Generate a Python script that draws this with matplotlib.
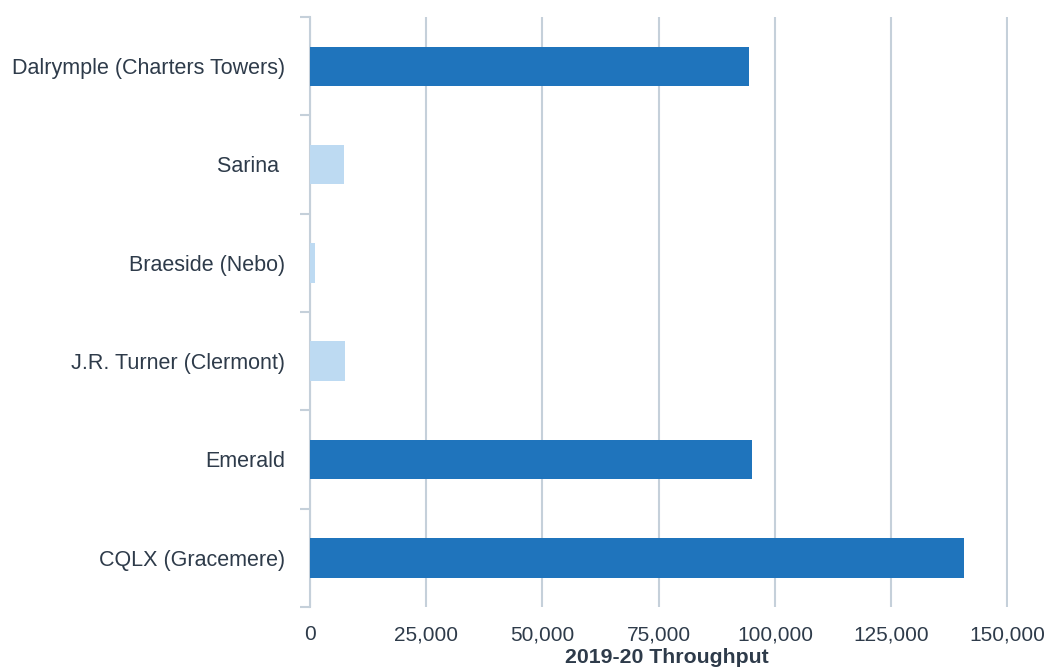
import matplotlib.pyplot as plt
from matplotlib.ticker import FuncFormatter
import numpy as np

plt.rcParams['font.family'] = ['Liberation Sans', 'DejaVu Sans']

categories = ['CQLX (Gracemere)', 'Emerald', 'J.R. Turner (Clermont)',
              'Braeside (Nebo)', 'Sarina ', 'Dalrymple (Charters Towers)']
throughput = [140700, 95050, 7530, 1010, 7250, 94470]
highlight = [True, True, False, False, False, True]

dark = '#1F74BC'
light = '#BDDAF2'
grid_col = '#C5D0DA'
text_col = '#2E3B4A'

fig = plt.figure(figsize=(10.49, 6.71), dpi=100)
ax = fig.add_axes([310 / 1049, 1 - 607 / 671, 697.5 / 1049, 590 / 671])

y = np.arange(len(categories))
colors = [dark if h else light for h in highlight]
ax.barh(y, throughput, height=0.4, color=colors, zorder=3)

ax.set_xlim(0, 150000)
ax.set_ylim(-0.5, len(categories) - 0.5)
ax.set_xticks(np.arange(0, 150001, 25000))
ax.xaxis.set_major_formatter(FuncFormatter(lambda v, p: f'{int(v):,}'))
ax.set_yticks(y)
ax.set_yticklabels(categories)
ax.set_yticks(np.arange(-0.5, len(categories)), minor=True)

ax.grid(axis='x', color=grid_col, linewidth=1.5, zorder=0)
for s in ['top', 'right', 'bottom']:
    ax.spines[s].set_visible(False)
ax.spines['left'].set_color(grid_col)
ax.spines['left'].set_linewidth(1.5)

ax.tick_params(axis='y', which='major', length=0, pad=18, labelsize=15.5, labelcolor=text_col)
ax.tick_params(axis='y', which='minor', length=7, width=1.5, color=grid_col)
ax.tick_params(axis='x', length=0, pad=13, labelsize=15, labelcolor=text_col)

ax.set_xlabel('2019-20 Throughput', fontsize=15.3, fontweight='bold', color=text_col)
ax.xaxis.set_label_coords(0.512, -0.07)

fig.savefig('out.png', dpi=100)
